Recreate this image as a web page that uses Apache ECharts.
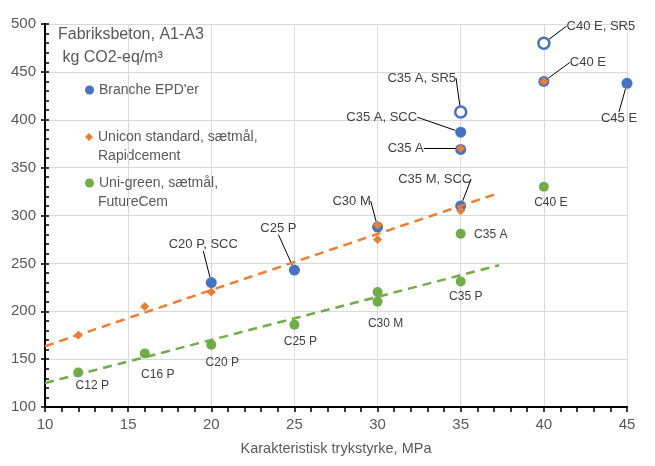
<!DOCTYPE html>
<html>
<head>
<meta charset="utf-8">
<script src="https://cdn.jsdelivr.net/npm/echarts@6/dist/echarts.min.js"></script>
<style>html,body{margin:0;padding:0;background:#fff}#c{width:655px;height:466px}</style>
</head>
<body>
<div id="c"></div>
<script>
// ---- data ----
const xTicks = [10, 45, 5];
const yTicks = [100, 500, 50];
const brancheName = "Branche EPD'er";
const uniconName = "Unicon standard, sætmål,";
const uniconName2 = "Rapidcement";
const greenName = "Uni-green, sætmål,";
const greenName2 = "FutureCem";
const brancheFilled = [[20,230,'C20 P, SCC'],[25,243,'C25 P'],[30,288,'C30 M'],[35,310,'C35 M, SCC'],[35,387,'C35 A, SCC'],[35,369,''],[40,440,'C40 E'],[45,438,'C45 E']];
const brancheHollow = [[35,408,'C35 A, SR5'],[40,480,'C40 E, SR5']];
const unicon = [[12,175,''],[16,205,''],[20,220,''],[30,290,''],[30,275,''],[35,305,''],[35,370,'C35 A'],[40,440,'']];
const green = [[12,136,'C12 P'],[16,156,'C16 P'],[20,165,'C20 P'],[25,186,'C25 P'],[30,220,''],[30,210,'C30 M'],[35,231,'C35 P'],[35,281,'C35 A'],[40,330,'C40 E']];
const uniconTrend = [[10,163.5],[37.3,323.5]];
const greenTrend = [[10,125],[37.3,248]];

// ---- label offsets (layout only) ----
const brancheFilledOff = [[-8,-38],[-16,-42],[-26,-26],[-26,-27],[-79,-15],[0,0],[44,-19],[-8,35]];
const brancheHollowOff = [[-39,-34],[57,-17]];
const uniconOff = [[0,0],[0,0],[0,0],[0,0],[0,0],[0,0],[-55,0],[0,0]];
const greenOff = [[14,13],[13,21],[11,18],[6,17],[0,0],[8,22],[5,15],[30,1],[7,16]];

const FONT = 'Liberation Sans';
const BLUE = '#4472C4', ORANGE = '#ED7D31', GREEN = '#70AD47';
const TXT = '#404040', AX = '#595959';

function lbl(size) {
  return {show: true, position: 'inside', formatter: p => p.value[2], color: TXT, fontFamily: FONT, fontSize: size};
}
function lay(off) {
  return p => ({dx: off[p.dataIndex][0], dy: off[p.dataIndex][1]});
}
const leader = {show: true, lineStyle: {color: '#000', width: 1}};

const chart = echarts.init(document.getElementById('c'));
chart.setOption({
  animation: false,
  backgroundColor: '#fff',
  textStyle: {fontFamily: FONT},
  title: {text: 'Fabriksbeton, A1-A3\n kg CO2-eq/m³', left: 58, top: 23, padding: 0,
    textStyle: {fontSize: 16, fontWeight: 'normal', color: AX, fontFamily: FONT, lineHeight: 23}},
  legend: [
    {data: [brancheName], left: 85, top: 83, orient: 'vertical', itemWidth: 9, itemHeight: 9, padding: 0,
      textStyle: {fontSize: 14, color: AX, fontFamily: FONT}},
    {data: [uniconName], left: 85, top: 130, orient: 'vertical', itemWidth: 8, itemHeight: 8, padding: 0,
      textStyle: {fontSize: 14, color: AX, fontFamily: FONT}},
    {data: [greenName], left: 85, top: 176, orient: 'vertical', itemWidth: 9, itemHeight: 9, padding: 0,
      textStyle: {fontSize: 14, color: AX, fontFamily: FONT}}
  ],
  graphic: [
    {type: 'text', left: 98, top: 149, style: {text: uniconName2, fontSize: 14, fill: AX, fontFamily: FONT}},
    {type: 'text', left: 98, top: 195, style: {text: greenName2, fontSize: 14, fill: AX, fontFamily: FONT}}
  ],
  grid: {left: 45, top: 24, right: 28, bottom: 59, containLabel: false},
  xAxis: {
    type: 'value', min: xTicks[0], max: xTicks[1], interval: xTicks[2],
    axisLine: {show: true, lineStyle: {color: '#000', width: 2}},
    axisTick: {show: true, length: 5, lineStyle: {color: '#000', width: 1.5}},
    minorTick: {show: true, splitNumber: 5, length: 5, lineStyle: {color: '#000', width: 1.5}},
    splitLine: {show: true, lineStyle: {color: '#d9d9d9', width: 1}},
    axisLabel: {fontSize: 15, color: AX, margin: 10, fontFamily: FONT},
    name: 'Karakteristisk trykstyrke, MPa', nameLocation: 'middle', nameGap: 34,
    nameTextStyle: {fontSize: 14.5, color: AX, fontFamily: FONT}
  },
  yAxis: [{
    type: 'value', min: yTicks[0], max: yTicks[1], interval: yTicks[2], position: 'left',
    axisLine: {show: true, lineStyle: {color: '#000', width: 2}},
    axisTick: {show: true, inside: true, length: 4, lineStyle: {color: '#000', width: 1.5}},
    minorTick: {show: true, splitNumber: 5, length: 4, lineStyle: {color: '#000', width: 1.5}},
    splitLine: {show: true, lineStyle: {color: '#d9d9d9', width: 1}},
    axisLabel: {fontSize: 15, color: AX, margin: 9, fontFamily: FONT}
  }, {
    type: 'value', min: yTicks[0], max: yTicks[1], interval: yTicks[2], position: 'left', offset: 0,
    axisLine: {show: false},
    axisTick: {show: true, inside: false, length: 4, lineStyle: {color: '#000', width: 1.5}},
    splitLine: {show: false},
    axisLabel: {show: false}
  }],
  series: [
    {type: 'line', name: 'uniconTrend', data: uniconTrend, symbol: 'none', silent: true,
      lineStyle: {color: ORANGE, width: 2.5, type: [9, 6]}},
    {type: 'line', name: 'greenTrend', data: greenTrend, symbol: 'none', silent: true,
      lineStyle: {color: GREEN, width: 2.5, type: [9, 6]}},
    {type: 'scatter', name: greenName, data: green, symbol: 'circle', symbolSize: 10,
      itemStyle: {color: GREEN, opacity: 1}, label: lbl(12), labelLayout: lay(greenOff), labelLine: {show: false}},
    {type: 'scatter', name: brancheName, data: brancheFilled, symbol: 'circle', symbolSize: 11,
      itemStyle: {color: BLUE, opacity: 1}, label: lbl(13), labelLayout: lay(brancheFilledOff), labelLine: leader},
    {type: 'scatter', name: brancheName, data: brancheHollow, symbol: 'circle', symbolSize: 11,
      itemStyle: {color: '#fff', borderColor: BLUE, borderWidth: 2.5, opacity: 1}, label: lbl(13), labelLayout: lay(brancheHollowOff), labelLine: leader},
    {type: 'scatter', name: uniconName, data: unicon, symbol: 'diamond', symbolSize: 9,
      itemStyle: {color: ORANGE, opacity: 1}, label: lbl(13), labelLayout: lay(uniconOff), labelLine: leader}
  ]
});
</script>
</body>
</html>
